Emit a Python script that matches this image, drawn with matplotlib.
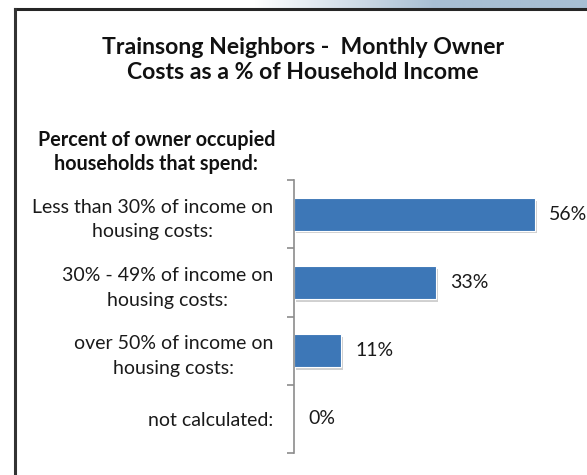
import numpy as np
import matplotlib
matplotlib.use("Agg")
import matplotlib.pyplot as plt
import matplotlib.patheffects as pe
from matplotlib.lines import Line2D

# Data
categories = [
    "Less than 30% of income on\nhousing costs:",
    "30% - 49% of income on\nhousing costs:",
    "over 50% of income on\nhousing costs:",
    "not calculated:",
]
shares = [56, 33, 11, 0]
value_labels = ["56%", "33%", "11%", "0%"]

title = "Trainsong Neighbors -  Monthly Owner\nCosts as a % of Household Income"
header = "Percent of owner occupied\nhouseholds that spend:"

FONT = "Lato"
W, H = 587, 475
fig = plt.figure(figsize=(W / 100, H / 100), dpi=100)
fig.patch.set_facecolor("white")

# Gradient band across the top edge
grad_ax = fig.add_axes([0, (H - 8) / H, 1, 8 / H])
xs = np.linspace(0, W, 600)
t = np.clip((xs - 255) / (435 - 255), 0, 1)
white = np.array([1.0, 1.0, 1.0])
blue = np.array([0xa8, 0xbf, 0xd4]) / 255
row = white[None, :] * (1 - t[:, None]) + blue[None, :] * t[:, None]
grad_ax.imshow(row[None, :, :], aspect="auto", extent=[0, W, 0, 1])
grad_ax.set_axis_off()

# Frame lines (top and left)
def px(x, y):
    return x / W, 1 - y / H

fx, fy = px(15, 9)
fig.add_artist(Line2D([fx, 1], [fy, fy], color="#262626", lw=2.2,
                      transform=fig.transFigure))
fig.add_artist(Line2D([fx, fx], [fy, 0], color="#333333", lw=2.2,
                      transform=fig.transFigure))

# Bar axes
x0, x1 = 294, 580
y_top, y_bot = 180, 453
ax = fig.add_axes([x0 / W, (H - y_bot) / H, (x1 - x0) / W, (y_bot - y_top) / H])
ax.set_xlim(0, (x1 - x0) / 4.3)
ax.set_ylim(len(categories) - 0.5, -0.5)

ypos = np.arange(len(categories))
bars = ax.barh(ypos, shares, height=0.48, color="#3d77b7", edgecolor="white",
               linewidth=0.8)
for b in bars:
    b.set_path_effects([pe.SimplePatchShadow(offset=(1.5, -2), alpha=0.35,
                                             shadow_rgbFace="#7a7a7a"),
                        pe.Normal()])

for y, v, lab in zip(ypos, shares, value_labels):
    ax.annotate(lab, (v, y), xytext=(10, 0), textcoords="offset points",
                ha="left", va="center", fontsize=14, family=FONT,
                color="#1a1a1a")

for s in ["top", "right", "bottom"]:
    ax.spines[s].set_visible(False)
ax.spines["left"].set_color("#8c8c8c")
ax.spines["left"].set_linewidth(1.2)
ax.set_xticks([])
ax.set_yticks(ypos)
ax.set_yticklabels(categories, family=FONT, fontsize=14, color="#1a1a1a",
                   multialignment="center", linespacing=1.55)
ax.tick_params(axis="y", which="major", length=0, pad=15)
ax.set_yticks(np.arange(-0.5, len(categories)), minor=True)
ax.tick_params(axis="y", which="minor", length=5, color="#8c8c8c", width=1.2)
ax.patch.set_alpha(0)

# Titles
fig.text(303 / W, 1 - 60 / H, title, ha="center", va="center",
         fontsize=16.6, fontweight="bold", family=FONT, color="#111111",
         multialignment="center", linespacing=1.25)
fig.text(275 / W, 1 - 152 / H, header, ha="right", va="center",
         fontsize=14.2, fontweight="bold", family=FONT, color="#111111",
         multialignment="center", linespacing=1.25)

fig.savefig("out.png", dpi=100)
